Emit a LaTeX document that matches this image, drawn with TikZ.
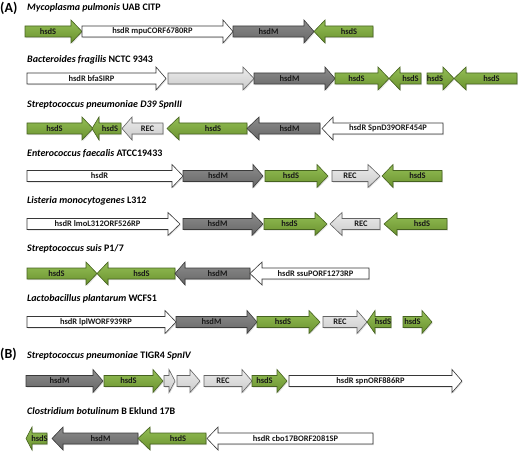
\documentclass[tikz,border=0pt]{standalone}
\usepackage{fontspec}
\setmainfont{Carlito}
\usetikzlibrary{shadows}
\definecolor{gTop}{RGB}{148,190,86}
\definecolor{gBot}{RGB}{106,146,46}
\definecolor{gLine}{RGB}{70,98,32}
\definecolor{dTop}{RGB}{140,140,140}
\definecolor{dBot}{RGB}{102,102,102}
\definecolor{dLine}{RGB}{58,58,58}
\definecolor{lTop}{RGB}{236,236,236}
\definecolor{lBot}{RGB}{202,202,202}
\definecolor{lLine}{RGB}{100,100,100}
\definecolor{wLine}{RGB}{55,55,55}
\tikzset{
  gene/.style={line width=0.6bp, line join=miter,
    drop shadow={shadow xshift=0.8bp, shadow yshift=-1.2bp, opacity=0.25}},
  gg/.style={draw=gLine, top color=gTop, bottom color=gBot},
  dg/.style={draw=dLine, top color=dTop, bottom color=dBot},
  lg/.style={draw=lLine, top color=lTop, bottom color=lBot},
  wg/.style={draw=wLine, fill=white},
  glabel/.style={inner sep=0pt, font=\bfseries\fontsize{8.5}{10}\selectfont, text=black!90},
  ttl/.style={inner sep=0pt, anchor=base west, font=\bfseries\fontsize{10}{12}\selectfont},
  panel/.style={inner sep=0pt, anchor=base west, font=\bfseries\fontsize{14}{16}\selectfont}
}
\newcommand{\bh}{5.5}
\newcommand{\hh}{11.5}
% right-pointing: name, style, tail, tip, y, label, head length
\newcommand{\geneR}[7]{%
  \path[gene,#2] (#3,#5-\bh) -- (#4-#7,#5-\bh) -- (#4-#7,#5-\hh) -- (#4,#5)
    -- (#4-#7,#5+\hh) -- (#4-#7,#5+\bh) -- (#3,#5+\bh) -- cycle;
  \node[glabel] (#1) at ({(#3+#4-#7)/2},#5) {#6};}
% left-pointing: name, style, tail (right end), tip (left end), y, label, head length
\newcommand{\geneL}[7]{%
  \path[gene,#2] (#3,#5-\bh) -- (#4+#7,#5-\bh) -- (#4+#7,#5-\hh) -- (#4,#5)
    -- (#4+#7,#5+\hh) -- (#4+#7,#5+\bh) -- (#3,#5+\bh) -- cycle;
  \node[glabel] (#1) at ({(#3+#4+#7)/2},#5) {#6};}
\begin{document}
\begin{tikzpicture}[x=1bp,y=-1bp]
\useasboundingbox (0,0) rectangle (520,453);

\node[panel] (pa) at (0,12.5) {(A)};
\node[panel] (pb) at (0,358.5) {(B)};

% Row 1
\node[ttl] (t1) at (27,11) {\textit{Mycoplasma pulmonis} UAB CITP};
\geneR{a1}{gg}{25}{82}{31.5}{hsdS}{11}
\geneR{a2}{wg}{82}{233}{31.5}{hsdR mpuCORF6780RP}{10}
\geneR{a3}{dg}{233}{314}{31.5}{hsdM}{10}
\geneL{a4}{gg}{373}{314}{31.5}{hsdS}{11}

% Row 2
\node[ttl] (t2) at (27,63) {\textit{Bacteroides fragilis} NCTC 9343};
\geneR{b1}{wg}{27}{166}{78.5}{hsdR bfaSIRP}{10}
\geneR{b2}{lg}{168}{254}{78.5}{}{11}
\geneR{b3}{dg}{254}{335}{78.5}{hsdM}{10}
\geneR{b4}{gg}{335}{389}{78.5}{hsdS}{11}
\geneL{b5}{gg}{421}{389}{78.5}{hsdS}{11}
\geneR{b6}{gg}{427}{454}{78.5}{hsdS}{11}
\geneL{b7}{gg}{517}{454}{78.5}{hsdS}{12}

% Row 3
\node[ttl] (t3) at (27,108) {\textit{Streptococcus pneumoniae D39 SpnIII}};
\geneR{c1}{gg}{27}{93}{128.5}{hsdS}{11}
\geneL{c2}{gg}{121}{92}{128.5}{hsdS}{7}
\geneL{c3}{lg}{163}{122}{128.5}{REC}{10}
\geneL{c4}{gg}{247}{167}{128.5}{hsdS}{12}
\geneL{c5}{dg}{320}{247}{128.5}{hsdM}{12}
\geneL{c6}{wg}{443}{322}{128.5}{hsdR SpnD39ORF454P}{11}

% Row 4
\node[ttl] (t4) at (27,157) {\textit{Enterococcus faecalis} ATCC19433};
\geneR{d1}{wg}{27}{183}{176}{hsdR}{11}
\geneR{d2}{dg}{183}{263}{176}{hsdM}{10}
\geneR{d3}{gg}{265}{328}{176}{hsdS}{11}
\geneR{d4}{lg}{332}{380}{176}{REC}{12}
\geneL{d5}{gg}{442}{382}{176}{hsdS}{11}

% Row 5
\node[ttl] (t5) at (27,204) {\textit{Listeria monocytogenes} L312};
\geneR{e1}{wg}{27}{180}{224}{hsdR lmoL312ORF526RP}{12}
\geneR{e2}{dg}{183}{263}{224}{hsdM}{11}
\geneR{e3}{gg}{264}{327}{224}{hsdS}{12}
\geneL{e4}{lg}{380}{330}{224}{REC}{12}
\geneL{e5}{gg}{447}{384}{224}{hsdS}{13}

% Row 6
\node[ttl] (t6) at (27,252) {\textit{Streptococcus suis} P1/7};
\geneR{f1}{gg}{27}{97}{273.5}{hsdS}{11}
\geneL{f2}{gg}{175}{97}{273.5}{hsdS}{11}
\geneL{f3}{dg}{250}{175}{273.5}{hsdM}{10}
\geneL{f4}{wg}{369}{250}{273.5}{hsdR ssuPORF1273RP}{12}

% Row 7
\node[ttl] (t7) at (27,301) {\textit{Lactobacillus plantarum} WCFS1};
\geneR{g1}{wg}{27}{176}{322}{hsdR lplWORF939RP}{11}
\geneR{g2}{dg}{176}{257}{322}{hsdM}{10}
\geneR{g3}{gg}{257}{320}{322}{hsdS}{11}
\geneR{g4}{lg}{323}{367}{322}{REC}{10}
\geneL{g5}{gg}{391}{367}{322}{hsdS}{8}
\geneR{g6}{gg}{403}{432}{322}{hsdS}{10}

% Row 8
\node[ttl] (t8) at (27,358) {\textit{Streptococcus pneumoniae} TIGR4 \textit{SpnIV}};
\geneR{h1}{dg}{26}{103}{381}{hsdM}{10}
\geneR{h2}{gg}{104}{163}{381}{hsdS}{10}
\geneR{h3}{lg}{164}{175}{381}{}{6}
\geneR{h4}{lg}{177}{200}{381}{}{10}
\geneR{h5}{lg}{204}{252}{381}{REC}{10}
\geneR{h6}{gg}{252}{287}{381}{hsdS}{10}
\geneR{h7}{wg}{289}{462}{381}{hsdR spnORF886RP}{10}

% Row 9
\node[ttl] (t9) at (27,414) {\textit{Clostridium botulinum} B Eklund 17B};
\geneL{i1}{gg}{47}{26}{438.5}{hsdS}{6}
\geneL{i2}{dg}{138}{52}{438.5}{hsdM}{11}
\geneL{i3}{gg}{206}{138}{438.5}{hsdS}{12}
\geneL{i4}{wg}{373}{207}{438.5}{hsdR cbo17BORF2081SP}{11}
\end{tikzpicture}
\end{document}
